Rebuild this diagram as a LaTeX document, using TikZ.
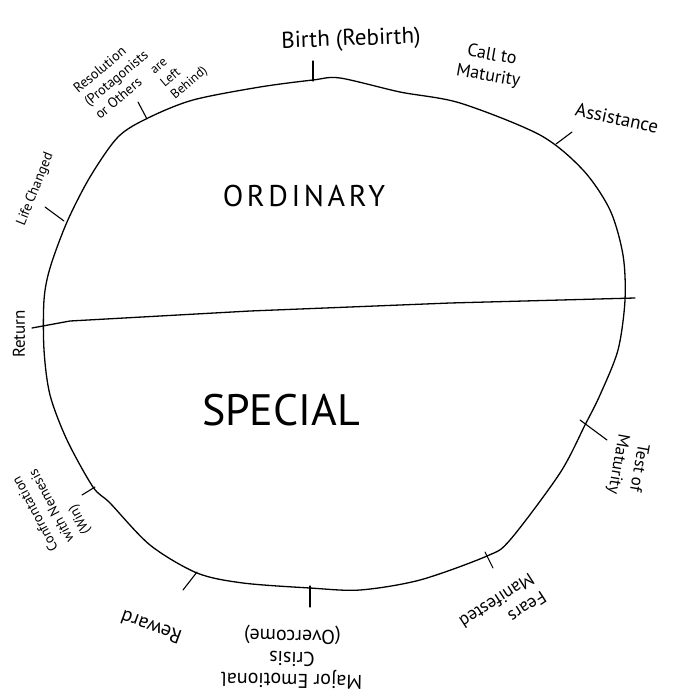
\documentclass[tikz,border=0pt]{standalone}
\usepackage{fontspec}
\setmainfont{PT Sans}
\begin{document}
\begin{tikzpicture}[x=1pt,y=-1pt,
  pen/.style={line width=1.3pt, line cap=round, line join=round},
  tickline/.style={line width=1.1pt, line cap=round},
  lab/.style={inner sep=0pt, align=center},
  labl/.style={inner sep=0pt, align=left},
  fs/.style={font=\fontsize{#1}{#1}\selectfont}]
\useasboundingbox (0,0) rectangle (678,698);
\fill[white] (0,0) rectangle (678,698);
% the big circle
\draw[pen] plot[smooth cycle, tension=0.5] coordinates {
 (340,78) (400,92) (460,103) (540,135) (583,170) (610,210) (623,255)
 (625,300) (618,350) (600,395) (585,425) (560,473) (510,540) (487,556)
 (420,580) (360,590) (310,588) (243,583) (197,573) (150,545) (110,503)
 (93,487) (67,440) (50,395) (44,350) (44,300) (50,268) (67,222)
 (90,177) (118,137) (148,118) (193,100) (260,87) (313,80)};
% dividing line
\coordinate (l0) at (32,328);
\coordinate (l1) at (70,321);
\coordinate (l2) at (250,311);
\coordinate (l3) at (450,303);
\coordinate (l4) at (635,298);
\draw[pen] (l0) -- (l1) -- (l2) -- (l3) -- (l4);
% ticks
\coordinate (tbA) at (313,61);  \coordinate (tbB) at (313,81);
\coordinate (trA) at (138,102); \coordinate (trB) at (147,119);
\coordinate (tcA) at (45,207);  \coordinate (tcB) at (64,221);
\coordinate (taA) at (572,132); \coordinate (taB) at (556,144);
\coordinate (ttA) at (580,420); \coordinate (ttB) at (607,440);
\coordinate (tfA) at (485,552); \coordinate (tfB) at (493,568);
\coordinate (tmA) at (310,586); \coordinate (tmB) at (310,607);
\coordinate (twA) at (197,572); \coordinate (twB) at (183,590);
\coordinate (tnA) at (95,487);  \coordinate (tnB) at (82,495);
\foreach \a/\b in {tbA/tbB,trA/trB,tcA/tcB,taA/taB,ttA/ttB,tfA/tfB,tmA/tmB,twA/twB,tnA/tnB}
  \draw[tickline] (\a) -- (\b);
% region labels
\node[lab, fs=30] (ord) at (304,196) {\addfontfeatures{LetterSpace=12}ORDINARY};
\node[lab, fs=44] (spe) at (281,410) {SPECIAL};
% stage labels
\node[lab, fs=23, rotate=2] (birth) at (351,40) {Birth (Rebirth)};
\node[lab, font=\fontsize{18}{21}\selectfont, rotate=-10] (call) at (490,66) {Call to\\Maturity};
\node[lab, fs=19, rotate=-12] (assist) at (617,118) {Assistance};
\node[lab, font=\fontsize{17}{21}\selectfont, rotate=-100] (test) at (628,466) {Test of\\Maturity};
\node[labl, font=\fontsize{18}{22}\selectfont, rotate=-147] (fears) at (503,610) {Fears\\Manifested};
\node[lab, font=\fontsize{20}{22}\selectfont, rotate=179] (crisis) at (292,657) {Major Emotional\\Crisis\\(Overcome)};
\node[lab, fs=20, rotate=160] (reward) at (151,627) {Reward};
\node[labl, font=\fontsize{14}{18}\selectfont, rotate=118] (nem) at (52,505) {Confrontation\\with Nemesis\\(Win)};
\node[lab, fs=17, rotate=90] (ret) at (19,334) {Return};
\node[lab, fs=14, rotate=68] (chg) at (40,178) {Changed};
\node[lab, fs=14, rotate=68] (life) at (24,214) {Life};
\node[labl, font=\fontsize{14}{17}\selectfont, rotate=40] (reso) at (116,78) {Resolution\\(Protagonists\\or Others};
\node[labl, font=\fontsize{13}{16}\selectfont, rotate=40] (reso2) at (180,72) {are\\Left\\Behind)};
\end{tikzpicture}
\end{document}
